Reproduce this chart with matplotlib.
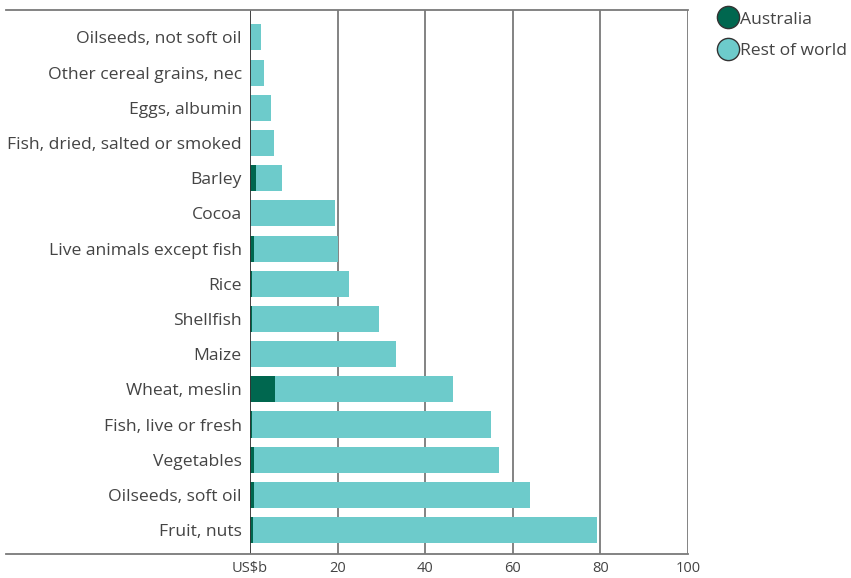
import matplotlib
matplotlib.use("Agg")
import matplotlib.pyplot as plt
from matplotlib.lines import Line2D
import numpy as np

categories = ["Fruit, nuts", "Oilseeds, soft oil", "Vegetables", "Fish, live or fresh",
              "Wheat, meslin", "Maize", "Shellfish", "Rice", "Live animals except fish",
              "Cocoa", "Barley", "Fish, dried, salted or smoked", "Eggs, albumin",
              "Other cereal grains, nec", "Oilseeds, not soft oil"]
totals = [79.2, 63.9, 56.8, 55.0, 46.3, 33.3, 29.4, 22.5, 20.0, 19.3, 7.2, 5.4, 4.7, 3.3, 2.4]
australia = [0.6, 1.0, 0.8, 0.35, 5.6, 0.1, 0.4, 0.35, 1.0, 0.1, 1.3, 0.1, 0.1, 0.1, 0.1]
rest_of_world = [t - a for t, a in zip(totals, australia)]
xticks = [0, 20, 40, 60, 80, 100]
xticklabels = ["US$b", "20", "40", "60", "80", "100"]

c_aus = "#00674F"
c_row = "#6DCBCB"
txt = "#444444"
font = ["Open Sans", "DejaVu Sans"]
plt.rcParams["font.family"] = font

fig = plt.figure(figsize=(8.51, 5.78), dpi=100)
W, H = 851, 578
ax = fig.add_axes([250 / W, (578 - 554) / H, (688 - 250) / W, (554 - 10) / H])

y = np.arange(len(categories))
ax.barh(y, australia, height=0.74, color=c_aus, zorder=3)
ax.barh(y, rest_of_world, left=australia, height=0.74, color=c_row, zorder=3)

ax.set_xlim(0, 100)
ax.set_ylim(-0.68, len(categories) - 1 + 0.78)
ax.set_yticks(y)
ax.set_yticklabels(categories, fontsize=12.6, color=txt)
ax.set_xticks(xticks)
ax.set_xticklabels(xticklabels, fontsize=10.5, color=txt)
ax.tick_params(axis="both", length=0)
ax.tick_params(axis="y", pad=6)
ax.tick_params(axis="x", pad=5)
for s in ax.spines.values():
    s.set_visible(False)
for xv in xticks[1:]:
    ax.axvline(xv, color="#7a7a7a", lw=1.3, zorder=1)
ax.axvline(0, color="#333333", lw=1.3, zorder=4)

# top and bottom frame lines extending to the left
for yy in (10, 554):
    fig.add_artist(Line2D([6 / W, 688 / W], [1 - yy / H, 1 - yy / H],
                          color="#7a7a7a", lw=1.3))

handles = [Line2D([], [], marker="o", ls="", markersize=16, markerfacecolor=c_aus,
                  markeredgecolor="#333333", markeredgewidth=1.0, label="Australia"),
           Line2D([], [], marker="o", ls="", markersize=16, markerfacecolor=c_row,
                  markeredgecolor="#333333", markeredgewidth=1.0, label="Rest of world")]
fig.legend(handles=handles, loc="upper left", bbox_to_anchor=(705 / W, 1 + 1 / H),
           frameon=False, fontsize=12.6, handletextpad=0.1, labelspacing=0.85,
           borderpad=0.2, handlelength=1.2, labelcolor=txt)

fig.savefig("out.png", dpi=100)
